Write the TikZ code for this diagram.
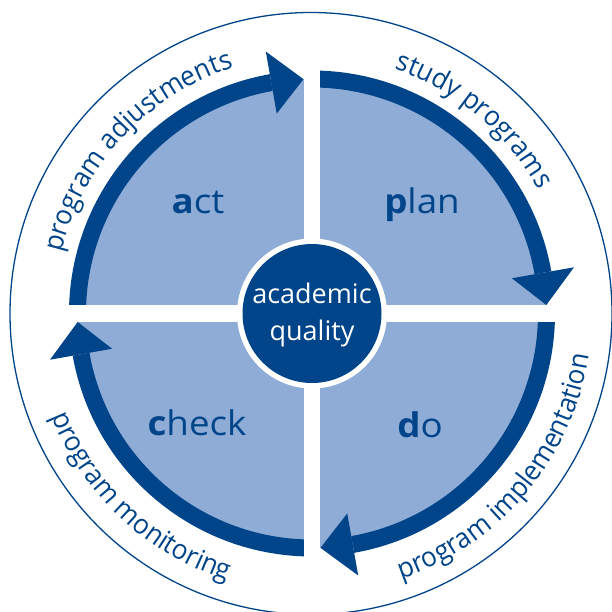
\documentclass[tikz,border=0pt]{standalone}
\usepackage{fontspec}
\setmainfont{Open Sans}
\newfontfamily\labfont[FakeStretch=1.08]{Open Sans}
\newfontfamily\arcfont[FakeStretch=0.95]{Open Sans}
\usetikzlibrary{decorations.text}
\definecolor{dblue}{RGB}{0,68,138}
\definecolor{lblue}{RGB}{142,172,214}
\begin{document}
\begin{tikzpicture}[x=1pt,y=1pt,
  quadlabel/.style={text=dblue, anchor=base, inner sep=0pt, font=\labfont\fontsize{34}{40}\selectfont},
  centerlabel/.style={text=white, anchor=base, inner sep=0pt, font=\fontsize{27}{31}\selectfont},
  curvetext/.style={decorate, decoration={text along path, text align=center, text color=dblue, text={|\arcfont\fontsize{27.5}{31}\selectfont|#1}}}]
\useasboundingbox (-312,-297.5) rectangle (300,313.5);
\fill[white] (-312,-297.5) rectangle (300,313.5);
\draw[dblue, line width=1.3pt] (-1,0) circle[radius=301];
\fill[lblue] (0,0) circle[radius=234.5];
\foreach \a in {180,90,0,-90} {
  \fill[dblue] (\a:243) arc[start angle=\a, end angle=\a-80, radius=243]
     -- (\a-80:226) arc[start angle=\a-80, end angle=\a, radius=226] -- cycle;
  \fill[dblue] (\a-80:266) -- (\a-87.92:234.5) -- (\a-80:203) -- cycle;
}
\fill[white] (-275,-8.5) rectangle (275,8.5);
\fill[white] (-8,-275) rectangle (8,275);
\fill[white] (0,0) circle[radius=75];
\fill[dblue] (0,0) circle[radius=69.5];
\node[centerlabel] (academic) at (0,10.5) {academic};
\node[centerlabel] (quality) at (0,-26.5) {quality};
\node[quadlabel] (act) at (-114,100.5) {\textbf{a}ct};
\node[quadlabel] (plan) at (110,100.5) {\textbf{p}lan};
\node[quadlabel] (do) at (108,-123.5) {\textbf{d}o};
\node[quadlabel] (check) at (-115,-121.5) {\textbf{c}heck};
\path[curvetext={program adjustments}] (182:258) arc[start angle=182, end angle=92, radius=258];
\path[curvetext={study programs}] (95:258) arc[start angle=95, end angle=5, radius=258];
\path[curvetext={program implementation}] (-85:280) arc[start angle=-85, end angle=5, radius=280];
\path[curvetext={program monitoring}] (182:280) arc[start angle=182, end angle=272, radius=280];
\end{tikzpicture}
\end{document}
